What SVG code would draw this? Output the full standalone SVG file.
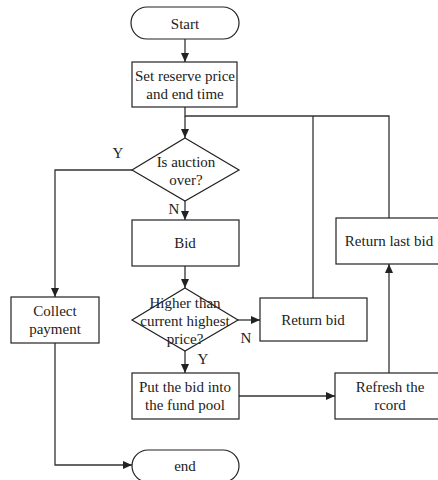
<svg xmlns="http://www.w3.org/2000/svg" width="438" height="480" viewBox="0 0 438 480">
<defs>
<marker id="ah" markerWidth="10" markerHeight="10" refX="9" refY="5" orient="auto" markerUnits="userSpaceOnUse">
<path d="M0,1 L9,5 L0,9 Z" fill="#222"/>
</marker>
<style>
.n{fill:#fff;stroke:#222;stroke-width:1.2}
.t{font-family:"Liberation Serif","Times New Roman",serif;font-size:15px;fill:#222;text-anchor:middle}
.c{fill:none;stroke:#333;stroke-width:1.3}
.a{marker-end:url(#ah)}
</style>
</defs>
<rect width="438" height="480" fill="#fff"/>
<g id="connectors">
<path class="c a" d="M185,39 V62"/>
<path class="c" d="M185,107 V116 H389 V218"/>
<path class="c a" d="M185,116 V138"/>
<path class="c" d="M313,116 V298"/>
<path class="c a" d="M132,170 H55 V297"/>
<path class="c a" d="M185,201 V220"/>
<path class="c a" d="M185,266 V288"/>
<path class="c a" d="M238,320 H260"/>
<path class="c a" d="M185,351 V373"/>
<path class="c a" d="M239,396 H335"/>
<path class="c a" d="M389,373 V264"/>
<path class="c a" d="M55,343 V465 H132"/>
<text class="t" x="118" y="158">Y</text>
<text class="t" x="174" y="214">N</text>
<text class="t" x="246" y="343">N</text>
<text class="t" x="203" y="364">Y</text>
</g>
<g id="start">
<rect class="n" x="131" y="7" width="108" height="32" rx="16"/>
<text class="t" x="185" y="29">Start</text>
</g>
<g id="setReserve">
<rect class="n" x="132" y="62" width="105" height="45"/>
<text class="t" x="185" y="81">Set reserve price</text>
<text class="t" x="185" y="99">and end time</text>
</g>
<g id="auctionOver">
<polygon class="n" points="185,138 239,170 185,201 132,170"/>
<text class="t" x="186" y="167">Is auction</text>
<text class="t" x="186" y="185">over?</text>
</g>
<g id="bid">
<rect class="n" x="132" y="220" width="107" height="46"/>
<text class="t" x="185" y="248">Bid</text>
</g>
<g id="higher">
<polygon class="n" points="185,288 238,320 185,351 132,320"/>
<text class="t" x="185" y="308">Higher than</text>
<text class="t" x="185" y="326">current highest</text>
<text class="t" x="185" y="344">price?</text>
</g>
<g id="returnBid">
<rect class="n" x="260" y="298" width="107" height="43"/>
<text class="t" x="313" y="325">Return bid</text>
</g>
<g id="returnLastBid">
<rect class="n" x="336" y="218" width="110" height="46"/>
<text class="t" x="389" y="246">Return last bid</text>
</g>
<g id="fundPool">
<rect class="n" x="132" y="373" width="107" height="46"/>
<text class="t" x="185" y="392">Put the bid into</text>
<text class="t" x="185" y="410">the fund pool</text>
</g>
<g id="refresh">
<rect class="n" x="335" y="373" width="110" height="46"/>
<text class="t" x="390" y="392">Refresh the</text>
<text class="t" x="390" y="410">rcord</text>
</g>
<g id="collect">
<rect class="n" x="11" y="297" width="88" height="46"/>
<text class="t" x="55" y="316">Collect</text>
<text class="t" x="55" y="334">payment</text>
</g>
<g id="end">
<rect class="n" x="132" y="450" width="107" height="32" rx="16"/>
<text class="t" x="185" y="471">end</text>
</g>
</svg>
